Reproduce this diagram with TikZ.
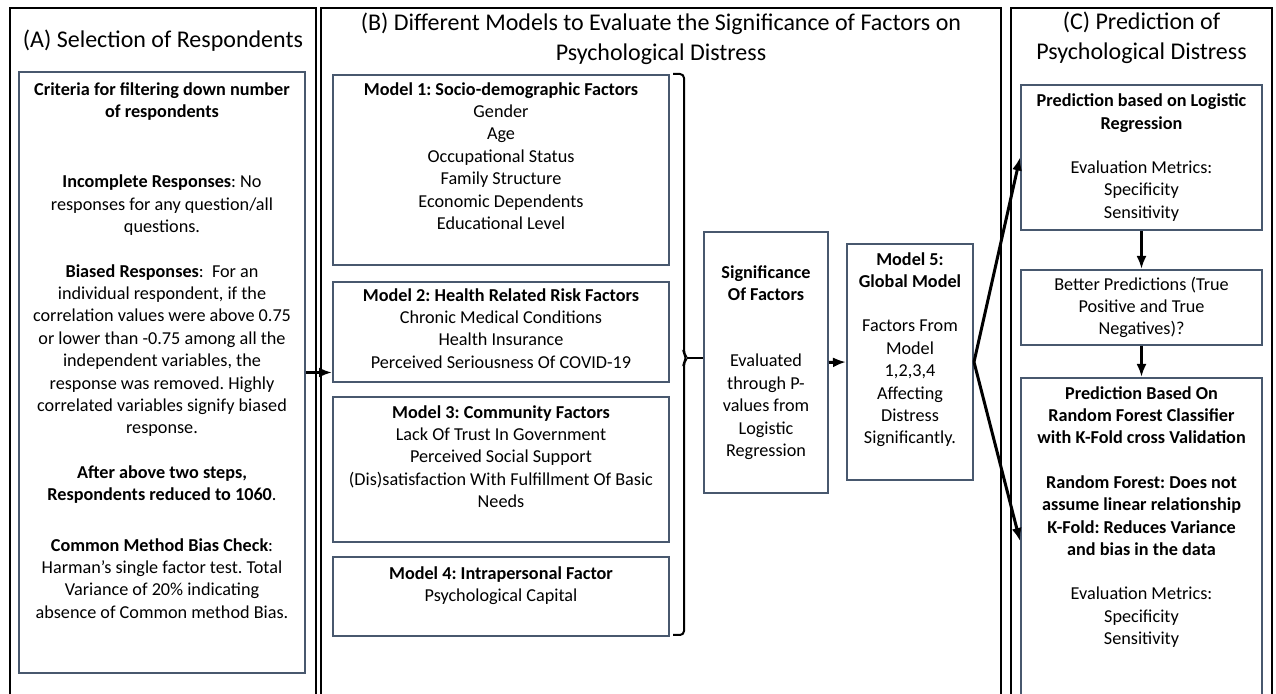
\documentclass[tikz,border=0pt]{standalone}
\usepackage{fontspec}
\setmainfont{Carlito}
\frenchspacing
\usetikzlibrary{positioning, arrows.meta}
\definecolor{boxline}{RGB}{72,88,110}
\tikzset{
    panel/.style={rectangle, draw=black, line width=1pt, inner sep=0pt},
    box/.style={rectangle, draw=boxline, line width=1pt, inner sep=0pt, align=center, font=\fontsize{9.1}{11.2}\selectfont},
    body/.style={align=center, inner sep=0pt, font=\fontsize{9.1}{11.2}\selectfont},
    head/.style={align=center, inner sep=0pt, font=\fontsize{12}{15}\selectfont},
    link/.style={->, >={Latex[length=6.5pt, width=5pt]}, line width=1.5pt}
}

\begin{document}
\begin{tikzpicture}[x=0.5pt, y=-0.5pt]
    \useasboundingbox (0,0) rectangle (1276,694);

    \node[panel, minimum width=153pt, minimum height=348pt] (panelA) at (163,356) {};
    \node[panel, minimum width=340pt, minimum height=348pt] (panelB) at (661,356) {};
    \node[panel, minimum width=130.5pt, minimum height=348pt] (panelC) at (1141.5,356) {};

    \node[head] (titleA) at (163,41) {(A) Selection of Respondents};
    \node[head] (titleB) at (661,39) {(B) Different Models to Evaluate the Significance of Factors on\\ Psychological Distress};
    \node[head] (titleC) at (1141.5,38) {(C) Prediction of\\ Psychological Distress};

    \node[box, minimum width=143pt, minimum height=300.5pt] (sel) at (162,372.5) {};
    \node[body, below=5.5pt of sel.north] (seltext) {\textbf{Criteria for filtering down number}\\ \textbf{of respondents}\\[24pt]
        \textbf{Incomplete Responses}: No\\ responses for any question/all\\ questions.\\[11pt]
        \textbf{Biased Responses}:\ \ For an\\ individual respondent, if the\\ correlation values were above 0.75\\ or lower than -0.75 among all the\\ independent variables, the\\ response was removed. Highly\\ correlated variables signify biased\\ response.\\[11pt]
        \textbf{After above two steps,}\\ \textbf{Respondents reduced to 1060}.\\[14pt]
        \textbf{Common Method Bias Check}:\\ Harman’s single factor test. Total\\ Variance of 20\% indicating\\ absence of Common method Bias.};

    \node[box, minimum width=168pt, minimum height=95pt] (m1) at (501,170) {};
    \node[box, minimum width=168pt, minimum height=50pt] (m2) at (501,332) {};
    \node[box, minimum width=168pt, minimum height=72.5pt] (m3) at (501,469.5) {};
    \node[box, minimum width=168pt, minimum height=39.5pt] (m4) at (501,596.5) {};
    \node[body, below=4pt of m1.north] (m1text) {\textbf{Model 1: Socio-demographic Factors}\\ Gender\\ Age\\ Occupational Status\\ Family Structure\\ Economic Dependents\\ Educational Level};
    \node[body, below=3.5pt of m2.north] (m2text) {\textbf{Model 2: Health Related Risk Factors}\\ Chronic Medical Conditions\\ Health Insurance\\ Perceived Seriousness Of COVID-19};
    \node[body, below=4.5pt of m3.north] (m3text) {\textbf{Model 3: Community Factors}\\ Lack Of Trust In Government\\ Perceived Social Support\\ (Dis)satisfaction With Fulfillment Of Basic\\ Needs};
    \node[body, below=5pt of m4.north] (m4text) {\textbf{Model 4: Intrapersonal Factor}\\ Psychological Capital};

    \node[box, minimum width=62pt, minimum height=130.5pt] (sig) at (766,362.5) {\textbf{Significance}\\ \textbf{Of Factors}\\[22pt] Evaluated\\ through P-\\ values from\\ Logistic\\ Regression};
    \node[box, minimum width=63pt, minimum height=118pt] (m5) at (910,362) {};
    \node[body, below=4.5pt of m5.north] (m5text) {\textbf{Model 5:}\\ \textbf{Global Model}\\[11pt] Factors From\\ Model\\ 1,2,3,4\\ Affecting\\ Distress\\ Significantly.};

    \node[box, minimum width=120.5pt, minimum height=72.5pt] (lr) at (1141.5,157.5) {\textbf{Prediction based on Logistic}\\ \textbf{Regression}\\[11pt] Evaluation Metrics:\\ Specificity\\ Sensitivity};
    \node[box, minimum width=120.5pt, minimum height=37.5pt] (better) at (1141.5,307.5) {Better Predictions (True\\ Positive and True\\ Negatives)?};
    \node[box, minimum width=120.5pt, minimum height=163pt] (rf) at (1141.5,541) {};
    \node[body, below=4.5pt of rf.north] (rftext) {\textbf{Prediction Based On}\\ \textbf{Random Forest Classifier}\\ \textbf{with K-Fold cross Validation}\\[11pt]
        \textbf{Random Forest: Does not}\\ \textbf{assume linear relationship}\\ \textbf{K-Fold: Reduces Variance}\\ \textbf{and bias in the data}\\[11pt]
        Evaluation Metrics:\\ Specificity\\ Sensitivity};

    \draw[line width=1pt, rounded corners=2pt] (673,74) -- (684,74) -- (684,354) -- (687,358) -- (684,362) -- (684,635) -- (673,635);
    \coordinate (tip) at (687,358);

    \draw[line width=1pt] (tip) -- (tip -| sig.west);
    \draw[link] (sel.east) -- (sel.east -| m2.west);
    \draw[link] (sig.east) -- (m5.west);
    \draw[link] (m5.east) -- (lr.west);
    \draw[link] (m5.east) -- (rf.west);
    \draw[link] (lr) -- (better);
    \draw[link] (better) -- (rf);
\end{tikzpicture}
\end{document}
